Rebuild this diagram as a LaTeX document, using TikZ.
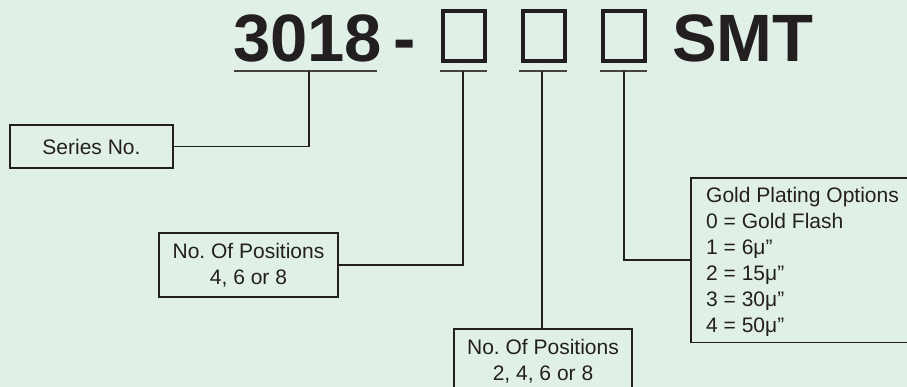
\documentclass[tikz,border=0pt]{standalone}
\usepackage{fontspec}
\setmainfont{Liberation Sans}
\definecolor{bg}{HTML}{E1F0E6}
\definecolor{ink}{HTML}{231F20}
\frenchspacing
\begin{document}
\begin{tikzpicture}[x=1pt,y=-1pt,
 lbl/.style={draw=ink, line width=1.5pt, text=ink, font=\fontsize{21}{26}\selectfont, align=center, inner sep=0pt},
 conn/.style={draw=ink, line width=1.5pt},
 uline/.style={draw=ink!85, line width=2pt},
 title/.style={text=ink, font=\fontsize{67}{67}\selectfont\bfseries, inner sep=0pt, anchor=base west},
 sq/.style={draw=ink, line width=4pt, minimum width=42pt, minimum height=50pt, inner sep=0pt}]
\fill[bg] (0,0) rectangle (907,387);
\useasboundingbox (0,0) rectangle (907,387);
\clip (0,0) rectangle (907,387);
% title
\node[title] (num) at (233,62) {3018};
\node[title] (dash) at (393,62) {-};
\node[sq] (b1) at (464,36) {};
\node[sq] (b2) at (544,36) {};
\node[sq] (b3) at (623.5,36) {};
\node[title] (smt) at (672,62) {SMT};
% underlines
\draw[uline] (234,71) -- (377,71);
\draw[uline] (440,71) -- (487,71);
\draw[uline] (519,71) -- (567,71);
\draw[uline] (600,71) -- (647,71);
\coordinate (t0) at (309,71);
\coordinate (t1) at (463,71);
\coordinate (t2) at (542,71);
\coordinate (t3) at (624,71);
% labels
\node[lbl, minimum width=163pt, minimum height=43pt] (series) at (91.5,146.5) {Series No.};
\node[lbl, minimum width=179pt, minimum height=64pt] (pos1) at (248.5,265) {No. Of Positions\\4, 6 or 8};
\node[lbl, minimum width=178pt, minimum height=64pt] (pos2) at (543,361) {No. Of Positions\\2, 4, 6 or 8};
\node[draw=ink, line width=1.5pt, minimum width=240pt, minimum height=164pt, anchor=north west, inner sep=0pt] (gold) at (690,177.5) {};
\node[anchor=north west, align=left, text=ink, font=\fontsize{21}{26}\selectfont, inner sep=0pt] (goldtxt) at (706,187) {Gold Plating Options\\0 = Gold Flash\\1 = 6μ”\\2 = 15μ”\\3 = 30μ”\\4 = 50μ”};
% connectors
\draw[conn] (t0) |- (series.east);
\draw[conn] (t1) |- (pos1.east);
\draw[conn] (t2) -- (t2 |- pos2.north);
\draw[conn] (t3) |- (gold.west);
\end{tikzpicture}
\end{document}
